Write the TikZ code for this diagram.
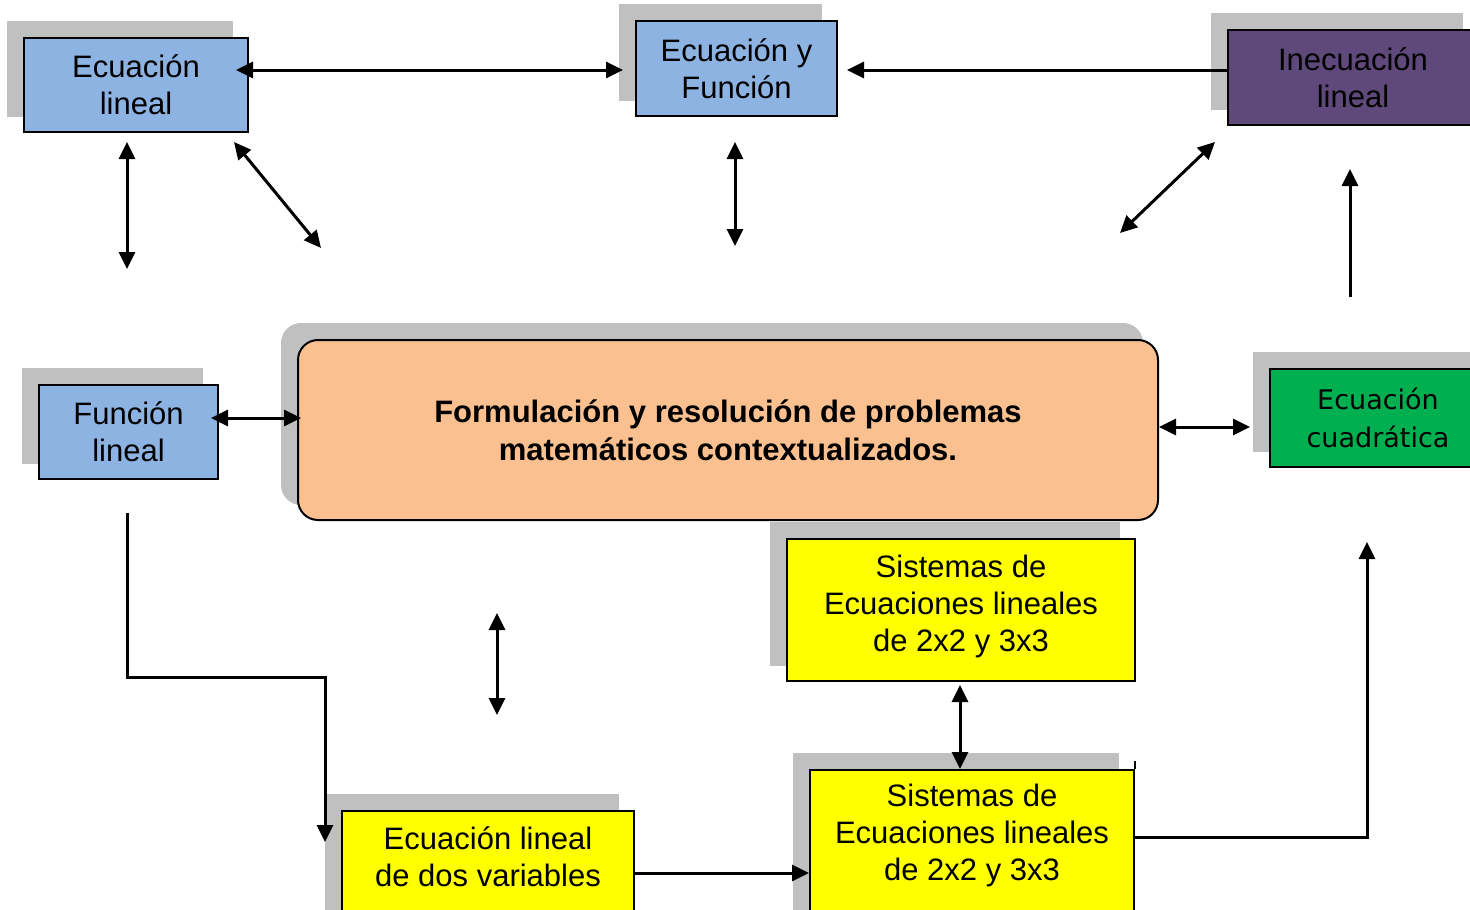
\documentclass[tikz,border=0pt]{standalone}
\usepackage{fontspec}
\setmainfont{Liberation Sans}
\newfontfamily\tahfont{DejaVu Sans}
\usetikzlibrary{arrows.meta,calc,backgrounds}
\definecolor{boxblue}{HTML}{8DB3E2}
\definecolor{boxpurple}{HTML}{5F497A}
\definecolor{boxgreen}{HTML}{00B050}
\definecolor{boxyellow}{HTML}{FFFF00}
\definecolor{boxpeach}{HTML}{FAC090}
\definecolor{shadowgray}{HTML}{C0C0C0}
\tikzset{
  box/.style={draw=black, line width=2pt, rectangle, inner sep=0pt, align=center,
    font=\fontsize{31}{37}\selectfont},
  bluebox/.style={box, fill=boxblue},
  purplebox/.style={box, fill=boxpurple},
  greenbox/.style={box, fill=boxgreen, font=\tahfont\fontsize{27}{38}\selectfont},
  yellowbox/.style={box, fill=boxyellow},
  txt/.style={align=center, inner sep=0pt, font=\fontsize{31}{37}\selectfont},
  conn/.style={line width=3pt, -{Triangle[length=17pt,width=16pt]}},
  dconn/.style={line width=3pt, {Triangle[length=17pt,width=16pt]}-{Triangle[length=17pt,width=16pt]}},
  shade/.style={fill=shadowgray}
}
\newcommand{\shadowbox}[1]{\fill[shade] ($(#1.north west)+(-16,-16)$) rectangle ($(#1.south east)+(-16,-16)$);}
\begin{document}
\begin{tikzpicture}[x=1pt,y=-1pt]
\useasboundingbox (0,0) rectangle (1470,910);

% nodes
\node[bluebox, minimum width=224pt, minimum height=94pt] (el) at (136,85) {Ecuación\\lineal};
\node[bluebox, minimum width=201pt, minimum height=95pt] (ef) at (736.5,68.5) {Ecuación y\\Función};
\node[purplebox, minimum width=250pt, minimum height=95pt] (il) at (1353,77.5) {Inecuación\\lineal};
\node[bluebox, minimum width=179pt, minimum height=94pt] (fl) at (128.5,432) {Función\\lineal};
\node[box, fill=boxpeach, rounded corners=20pt, minimum width=860pt, minimum height=180pt,
  font=\bfseries\fontsize{31}{38}\selectfont] (fr) at (728,430)
  {Formulación y resolución de problemas\\matemáticos contextualizados.};
\node[greenbox, minimum width=216pt, minimum height=98pt] (ec) at (1378,418) {Ecuación\\cuadrática};
\node[yellowbox, minimum width=348pt, minimum height=142pt] (s1) at (961,610) {};
\node[txt] (s1t) at (961,606) {Sistemas de\\Ecuaciones lineales\\de 2x2 y 3x3};
\node[yellowbox, minimum width=324pt, minimum height=160pt, anchor=north] (s2) at (972,769) {};
\node[txt] (s2t) at (972,835) {Sistemas de\\Ecuaciones lineales\\de 2x2 y 3x3};
\node[yellowbox, minimum width=292pt, minimum height=130pt, anchor=north] (dv) at (488,810) {};
\node[txt] (dvt) at (488,857) {Ecuación lineal\\de dos variables};

% shadows
\begin{scope}[on background layer]
\shadowbox{el}
\shadowbox{ef}
\shadowbox{il}
\shadowbox{fl}
\fill[shade, rounded corners=20pt] ($(fr.north west)+(-16,-16)$) rectangle ($(fr.south east)+(-16,-16)$);
\shadowbox{ec}
\shadowbox{s1}
\shadowbox{s2}
\shadowbox{dv}
\end{scope}

% small tick on s2
\draw[line width=2pt] (s2.north east) -- ++(0,-8);

% coordinates for free ends
\coordinate (a1s) at (236,70);   \coordinate (a1e) at (623,70);
\coordinate (a2s) at (1228,70);  \coordinate (a2e) at (847,70);
\coordinate (a3s) at (127,142);  \coordinate (a3e) at (127,269);
\coordinate (a4s) at (234,142);  \coordinate (a4e) at (321,248);
\coordinate (a5s) at (735,142);  \coordinate (a5e) at (735,246);
\coordinate (a6s) at (1215,142); \coordinate (a6e) at (1120,233);
\coordinate (a7s) at (1350,297); \coordinate (a7e) at (1350,169);
\coordinate (a8s) at (211,418);  \coordinate (a8e) at (301,418);
\coordinate (a9s) at (1159,427); \coordinate (a9e) at (1250,427);
\coordinate (a10s) at (497,613); \coordinate (a10e) at (497,715);
\coordinate (a11s) at (960,685); \coordinate (a11e) at (960,769);
\coordinate (a12s) at (127,513); \coordinate (a12e) at (325,842);
\coordinate (a14e) at (1367,542);

% connectors
\draw[dconn] (a1s) -- (a1e);
\draw[conn] (a2s) -- (a2e);
\draw[dconn] (a3s) -- (a3e);
\draw[dconn] (a4s) -- (a4e);
\draw[dconn] (a5s) -- (a5e);
\draw[dconn] (a6s) -- (a6e);
\draw[conn] (a7s) -- (a7e);
\draw[dconn] (a8s) -- (a8e);
\draw[dconn] (a9s) -- (a9e);
\draw[dconn] (a10s) -- (a10e);
\draw[dconn] (a11s) -- (a11e);
\draw[conn] (a12s) -- (127,677) -- (325,677) -- (a12e);
\draw[conn] (dv.east |- 0,873) -- (s2.west |- 0,873);
\draw[conn] (s2.east |- 0,837) -- (1367,837) -- (a14e);
\end{tikzpicture}
\end{document}
